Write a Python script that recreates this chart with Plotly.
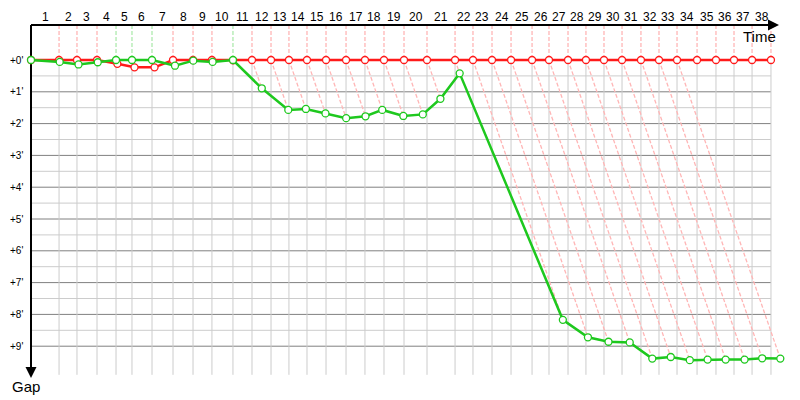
import plotly.graph_objects as go

# leader crossing time at each lap (minutes from start), laps 0..38
leader_time = [0, 2.55, 4.18, 6.00, 7.73, 9.18, 11.00, 12.91, 14.73, 16.45,
               18.36, 20.09, 21.82, 23.45, 25.09, 26.82, 28.64, 30.36, 32.09, 33.91,
               36.00, 38.55, 40.18, 41.91, 43.64, 45.55, 47.09, 48.82, 50.45, 52.09,
               53.73, 55.45, 57.09, 58.73, 60.55, 62.27, 63.91, 65.55, 67.27]

# gap to the leader at each lap (minutes)
red_gap = [0, 0, 0, 0, 0.12, 0.23, 0.23, 0, 0, 0,
           0.01, 0, 0, 0, 0, 0, 0, 0, 0, 0,
           0, 0, 0, 0, 0, 0, 0, 0, 0, 0,
           0, 0, 0, 0, 0, 0, 0, 0, 0]
green_gap = [0, 0.06, 0.14, 0.07, 0, 0, 0, 0.18, 0.02, 0.06,
             0, 0.89, 1.57, 1.54, 1.68, 1.83, 1.77, 1.57, 1.76, 1.71,
             1.22, 0.42, 8.17, 8.72, 8.86, 8.88, 9.39, 9.34, 9.44, 9.42,
             9.42, 9.42, 9.38, 9.39]

gap_ticks = list(range(0, 10))
lap_labels = [str(i) for i in range(1, len(leader_time))]

RED = "#ff1a1a"
GREEN = "#1ec81e"
RED_LIGHT = "#ffb6b6"
GREEN_LIGHT = "#aeeaae"

# pixel geometry of the picture: 11 px per minute across, 31.8 px per minute down
KX, KY = 11.0, 31.8
X0, Y0 = 31, 60
OFF = 8  # page body margin
px = lambda p: (p - X0) / KX
py = lambda p: (p - Y0) / KY

red_t = [t + g for t, g in zip(leader_time, red_gap)]
green_t = [t + g for t, g in zip(leader_time, green_gap)]

fig = go.Figure()
shapes = []
grid_bottom = 9.9
last_t = leader_time[-1]
dash = dict(width=1.3, dash="4px,2px")

# grid
for i in range(1, 19):
    g = i / 2
    major = (i % 2 == 0)
    shapes.append(dict(type="line", x0=0, x1=last_t, y0=g, y1=g, layer="below",
                       line=dict(color="#808080" if major else "#cccccc", width=1)))
for t in leader_time[1:]:
    shapes.append(dict(type="line", x0=t, x1=t, y0=0, y1=grid_bottom, layer="below",
                       line=dict(color="#cccccc", width=1)))

# vertical lap markers and diagonal gap lines
for n in range(1, len(leader_time)):
    green_leads = n < len(green_gap) and green_gap[n] == 0 and red_gap[n] > 0
    col = GREEN_LIGHT if green_leads else RED_LIGHT
    shapes.append(dict(type="line", x0=leader_time[n], x1=leader_time[n], y0=py(25), y1=0,
                       layer="below", line=dict(color=col, **dash)))
    if n < len(green_gap):
        if green_leads:
            x1, y1 = red_t[n], red_gap[n]
        else:
            x1, y1 = green_t[n], green_gap[n]
        shapes.append(dict(type="line", x0=leader_time[n], y0=0, x1=x1, y1=y1,
                           layer="below", line=dict(color=col, **dash)))

# axes
shapes.append(dict(type="line", x0=0, x1=px(768), y0=py(25), y1=py(25), layer="below",
                   line=dict(color="black", width=2)))
shapes.append(dict(type="line", x0=0, x1=0, y0=py(25), y1=py(367), layer="below",
                   line=dict(color="black", width=2)))

fig.add_trace(go.Scatter(x=red_t, y=red_gap, mode="lines+markers",
                         line=dict(color=RED, width=2.5),
                         marker=dict(size=7, color="white", line=dict(color=RED, width=1.3))))
fig.add_trace(go.Scatter(x=green_t, y=green_gap, mode="lines+markers",
                         line=dict(color=GREEN, width=2.5),
                         marker=dict(size=7, color="white", line=dict(color=GREEN, width=1.3))))

ann = []
# arrow heads
ann.append(dict(x=px(779), y=py(25), ax=px(766), ay=py(25), xref="x", yref="y", axref="x", ayref="y",
                showarrow=True, arrowhead=2, arrowsize=1.1, arrowwidth=2, arrowcolor="black", text=""))
ann.append(dict(x=0, y=py(378), ax=0, ay=py(365), xref="x", yref="y", axref="x", ayref="y",
                showarrow=True, arrowhead=2, arrowsize=1.1, arrowwidth=2, arrowcolor="black", text=""))
ann.append(dict(x=px(778), y=py(36), text="Time", showarrow=False, xanchor="right", yanchor="middle",
                font=dict(size=15, color="black")))
ann.append(dict(x=px(10), y=py(386), text="Gap", showarrow=False, xanchor="left", yanchor="middle",
                font=dict(size=15, color="black")))
for n, lab in enumerate(lap_labels, start=1):
    ann.append(dict(x=(leader_time[n - 1] + leader_time[n]) / 2, y=py(17), text=lab, showarrow=False,
                    xanchor="center", yanchor="middle", font=dict(size=12, color="black")))
for g in gap_ticks:
    ann.append(dict(x=px(8), y=g, text=f"+{g}'", showarrow=False, xanchor="left", yanchor="middle",
                    font=dict(size=10, color="black")))

fig.update_layout(
    width=800, height=400,
    margin=dict(l=0, r=0, t=0, b=0),
    plot_bgcolor="white", paper_bgcolor="white",
    showlegend=False,
    font=dict(family="Liberation Sans, Arial, sans-serif"),
    shapes=shapes, annotations=ann,
    xaxis=dict(range=[px(OFF), px(800 + OFF)], visible=False, fixedrange=True),
    yaxis=dict(range=[py(400 + OFF), py(OFF)], visible=False, fixedrange=True),
)

fig.write_html("out.html")
